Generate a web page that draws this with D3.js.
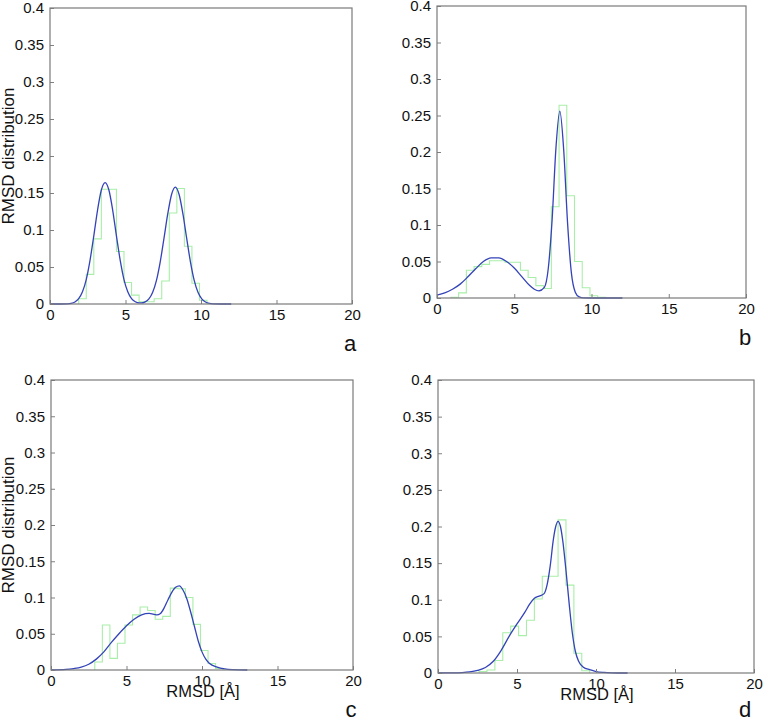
<!DOCTYPE html>
<html>
<head>
<meta charset="utf-8">
<script src="https://cdn.jsdelivr.net/npm/d3@7"></script>
<style>
  body { margin: 0; background: #fff; }
  svg text { font-family: "Liberation Sans", Arial, sans-serif; fill: #111; }
</style>
</head>
<body>
<div id="chart"></div>
<script>
// tick labels
const xTicks = [0, 5, 10, 15, 20];
const yTicks = [0, 0.05, 0.1, 0.15, 0.2, 0.25, 0.3, 0.35, 0.4];

// histogram (stairs) : bin edges + heights, one pair per panel
const edgesA = [1.9, 2.4, 2.9, 3.4, 3.9, 4.4, 4.9, 5.4, 5.9, 6.4, 6.9, 7.4, 7.9, 8.4, 8.9, 9.4, 9.9, 10.4];
const histA  = [0.007, 0.040, 0.088, 0.155, 0.155, 0.071, 0.029, 0.012, 0.003, 0.003, 0.007, 0.031, 0.123, 0.156, 0.078, 0.028, 0.005];

const edgesB = [0.9, 1.4, 1.9, 2.4, 2.9, 3.4, 3.9, 4.4, 4.9, 5.4, 5.9, 6.4, 6.9, 7.4, 7.9, 8.4, 8.9, 9.4, 9.9, 10.4, 10.9];
const histB  = [0.001, 0.007, 0.038, 0.043, 0.046, 0.051, 0.051, 0.049, 0.049, 0.038, 0.028, 0.017, 0.013, 0.125, 0.264, 0.140, 0.050, 0.014, 0.003, 0.001];

const edgesC = [2.9, 3.4, 3.9, 4.4, 4.9, 5.4, 5.9, 6.4, 6.9, 7.4, 7.9, 8.4, 8.9, 9.4, 9.9, 10.4, 10.9, 11.4];
const histC  = [0.011, 0.062, 0.016, 0.037, 0.062, 0.076, 0.087, 0.082, 0.070, 0.074, 0.113, 0.112, 0.100, 0.063, 0.027, 0.009, 0.002];

const edgesD = [2.6, 3.1, 3.6, 4.1, 4.6, 5.1, 5.6, 6.1, 6.6, 7.1, 7.6, 8.1, 8.6, 9.1, 9.6];
const histD  = [0.002, 0.004, 0.017, 0.055, 0.064, 0.051, 0.072, 0.101, 0.132, 0.132, 0.209, 0.120, 0.027, 0.003];

// fitted density curves
const curveXA = [0, 1.15, 1.4, 1.65, 1.9, 2.15, 2.4, 2.65, 2.9, 3.15, 3.4, 3.65, 3.9, 4.15, 4.4, 4.65, 4.9, 5.15, 5.4, 5.65, 5.9, 6.05, 6.3, 6.55, 6.8, 7.05, 7.3, 7.55, 7.8, 8.05, 8.3, 8.55, 8.8, 9.05, 9.3, 9.55, 9.8, 10.05, 10.3, 10.55, 10.8, 12];
const curveYA = [0, 0.0003, 0.0009, 0.0028, 0.0072, 0.0165, 0.033, 0.059, 0.092, 0.127, 0.154, 0.164, 0.154, 0.127, 0.092, 0.059, 0.033, 0.0165, 0.0072, 0.0030, 0.0014, 0.0014, 0.0029, 0.0069, 0.0159, 0.032, 0.057, 0.089, 0.122, 0.148, 0.158, 0.148, 0.122, 0.089, 0.057, 0.032, 0.0159, 0.0069, 0.0027, 0.0009, 0.0003, 0];

const curveXB = [0, 0.5, 1.0, 1.5, 2.0, 2.5, 3.0, 3.5, 4.0, 4.5, 5.0, 5.5, 6.0, 6.3, 6.6, 6.95, 7.2, 7.45, 7.7, 7.95, 8.2, 8.45, 8.7, 8.95, 9.2, 9.5, 10, 12];
const curveYB = [0.004, 0.007, 0.012, 0.019, 0.029, 0.040, 0.050, 0.055, 0.055, 0.050, 0.041, 0.029, 0.017, 0.012, 0.0098, 0.0145, 0.040, 0.107, 0.206, 0.256, 0.203, 0.103, 0.034, 0.008, 0.0015, 0.0002, 0, 0];

const curveXC = [0, 1, 1.5, 2, 2.5, 3, 3.5, 4, 4.5, 5, 5.5, 6, 6.5, 7, 7.25, 7.5, 7.75, 8, 8.25, 8.5, 8.75, 9, 9.25, 9.5, 9.75, 10, 10.25, 10.5, 11, 11.5, 12, 13];
const curveYC = [0, 0.0008, 0.002, 0.004, 0.008, 0.015, 0.025, 0.038, 0.050, 0.061, 0.070, 0.076, 0.078, 0.076, 0.078, 0.086, 0.097, 0.107, 0.114, 0.116, 0.110, 0.098, 0.080, 0.060, 0.040, 0.025, 0.015, 0.009, 0.004, 0.0015, 0.0005, 0];

const curveXD = [0, 1, 1.5, 2, 2.5, 3, 3.5, 4, 4.5, 5, 5.5, 5.8, 6.1, 6.4, 6.7, 6.9, 7.1, 7.3, 7.45, 7.6, 7.75, 7.9, 8.1, 8.3, 8.5, 8.7, 8.9, 9.2, 9.6, 10, 10.5, 11, 12];
const curveYD = [0, 0.0002, 0.0006, 0.0015, 0.0035, 0.0075, 0.016, 0.031, 0.050, 0.067, 0.083, 0.094, 0.102, 0.105, 0.108, 0.120, 0.146, 0.182, 0.200, 0.207, 0.200, 0.180, 0.140, 0.095, 0.055, 0.029, 0.016, 0.008, 0.0045, 0.002, 0.0008, 0.0003, 0];

const panels = [
  { letter: "a", letterX: 350, edges: edgesA, hist: histA, cx: curveXA, cy: curveYA, box: [50, 8, 352, 304], yTitle: true, xTitle: false },
  { letter: "b", letterX: 745, edges: edgesB, hist: histB, cx: curveXB, cy: curveYB, box: [437, 6, 746, 298], yTitle: false, xTitle: false },
  { letter: "c", letterX: 351, edges: edgesC, hist: histC, cx: curveXC, cy: curveYC, box: [51, 380, 353, 670], yTitle: true, xTitle: true },
  { letter: "d", letterX: 745, edges: edgesD, hist: histD, cx: curveXD, cy: curveYD, box: [438, 380, 754, 673], yTitle: false, xTitle: true }
];

const svg = d3.select("#chart").append("svg")
  .attr("width", 768)
  .attr("height", 722);

panels.forEach((p) => {
  const [x0, y0, x1, y1] = p.box;
  const x = d3.scaleLinear().domain([0, 20]).range([x0, x1]);
  const y = d3.scaleLinear().domain([0, 0.4]).range([y1, y0]);
  const g = svg.append("g");

  // histogram as stairs
  const steps = [[p.edges[0], 0]]
    .concat(p.hist.map((v, i) => [p.edges[i], v]))
    .concat([[p.edges[p.edges.length - 1], 0]]);
  g.append("path")
    .attr("d", d3.line().x((d) => x(d[0])).y((d) => y(d[1])).curve(d3.curveStepAfter)(steps))
    .attr("fill", "none")
    .attr("stroke", "#a8eea8")
    .attr("stroke-width", 1.1);

  // density curve
  const pts = p.cx.map((v, i) => [v, p.cy[i]]);
  g.append("path")
    .attr("d", d3.line().x((d) => x(d[0])).y((d) => y(d[1])).curve(d3.curveMonotoneX)(pts))
    .attr("fill", "none")
    .attr("stroke", "#3343b8")
    .attr("stroke-width", 1.3);

  // axes, ticks pointing inwards
  const left = g.append("g").attr("transform", `translate(${x0},0)`)
    .call(d3.axisLeft(y).tickValues(yTicks).tickSizeInner(-4).tickSizeOuter(0).tickPadding(6).tickFormat(d3.format("~g")));
  const bottom = g.append("g").attr("transform", `translate(0,${y1})`)
    .call(d3.axisBottom(x).tickValues(xTicks).tickSizeInner(-4).tickSizeOuter(0).tickPadding(5));
  [left, bottom].forEach((a) => {
    a.select(".domain").remove();
    a.selectAll("line").attr("stroke", "#808080");
    a.selectAll("text").style("font-size", "15px").style("fill", "#111");
  });

  g.append("rect")
    .attr("x", x0).attr("y", y0)
    .attr("width", x1 - x0).attr("height", y1 - y0)
    .attr("fill", "none")
    .attr("stroke", "#7a7a7a")
    .attr("stroke-width", 1.2);

  if (p.yTitle) {
    g.append("text")
      .attr("transform", `translate(14,${(y0 + y1) / 2}) rotate(-90)`)
      .attr("text-anchor", "middle")
      .style("font-size", "17px")
      .text("RMSD distribution");
  }
  if (p.xTitle) {
    g.append("text")
      .attr("x", (x0 + x1) / 2 + 1)
      .attr("y", y1 + 27)
      .attr("text-anchor", "middle")
      .style("font-size", "16.5px")
      .text("RMSD [Å]");
  }
  g.append("text")
    .attr("x", p.letterX)
    .attr("y", Math.min(y1 + 47, 717))
    .attr("text-anchor", "middle")
    .style("font-size", "22px")
    .text(p.letter);
});
</script>
</body>
</html>
